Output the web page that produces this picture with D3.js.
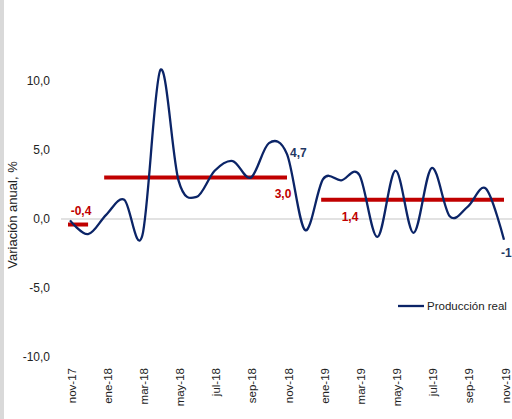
<!DOCTYPE html>
<html><head><meta charset="utf-8">
<script src="https://cdn.jsdelivr.net/npm/d3@7"></script>
<style>body{margin:0;background:#fff}svg{display:block;font-family:"Liberation Sans",Arial,sans-serif}</style>
</head><body><svg id="c" width="512" height="419"></svg>
<script>
const months = ["nov-17","dic-17","ene-18","feb-18","mar-18","abr-18","may-18","jun-18","jul-18","ago-18","sep-18","oct-18","nov-18","dic-18","ene-19","feb-19","mar-19","abr-19","may-19","jun-19","jul-19","ago-19","sep-19","oct-19","nov-19"];
const produccion = [-0.1,-1.1,0.3,1.4,-1.2,10.8,2.8,1.6,3.5,4.2,3.0,5.5,4.7,-0.8,2.9,2.8,3.2,-1.3,3.5,-1.0,3.7,0.2,0.9,2.2,-1.5];
const yTicks = [-10,-5,0,5,10];
const xTickLabels = ["nov-17","ene-18","mar-18","may-18","jul-18","sep-18","nov-18","ene-19","mar-19","may-19","jul-19","sep-19","nov-19"];
const avgStart = ["nov-17","ene-18","ene-19"];
const avgEnd = ["dic-17","nov-18","nov-19"];
const avgValues = [-0.4,3.0,1.4];
const avgLabels = ["-0,4","3,0","1,4"];

const svg = d3.select("#c");
svg.append("rect").attr("x",0).attr("y",0).attr("width",4).attr("height",419).attr("fill","#d9d9d9");

const x = d3.scalePoint().domain(months).range([70,504]);
const y = d3.scaleLinear().domain([-10,15]).range([357,12]);

svg.append("line").attr("x1",61).attr("x2",512).attr("y1",y(0)).attr("y2",y(0))
  .attr("stroke","#d9d9d9").attr("stroke-width",1.5);

const yAxis = d3.axisLeft(y).tickValues(yTicks).tickSize(0).tickPadding(0)
  .tickFormat(d=>d3.format(".1f")(d).replace(".",",").replace("−","-"));
const ga = svg.append("g").attr("transform","translate(50,0)").call(yAxis);
ga.select(".domain").remove();
ga.selectAll("text").attr("font-size",12).attr("fill","#222").attr("font-family","Liberation Sans, Arial, sans-serif");

const xAxis = d3.axisBottom(x).tickValues(xTickLabels).tickSize(0).tickPadding(0);
const gx = svg.append("g").attr("transform","translate(1,368)").call(xAxis);
gx.select(".domain").remove();
gx.selectAll("text").attr("font-size",11.5).attr("fill","#222")
  .attr("font-family","Liberation Sans, Arial, sans-serif")
  .attr("transform","rotate(-90)").attr("text-anchor","end").attr("dy","0.35em").attr("x",0).attr("y",0);

svg.append("text").attr("transform","translate(17,215) rotate(-90)").attr("text-anchor","middle")
  .attr("font-size",13).attr("fill","#222").text("Variación anual, %");

const avgG = svg.append("g");
avgValues.forEach((v,i)=>{
  const x1 = x(avgStart[i]) - 2, x2 = x(avgEnd[i]);
  avgG.append("line").attr("x1",x1).attr("x2",x2).attr("y1",y(v)).attr("y2",y(v))
    .attr("stroke","#c00000").attr("stroke-width",4);
});
const avgLabelPos = [[81,215],[283,198],[350,221]];
avgLabels.forEach((t,i)=>{
  svg.append("text").attr("x",avgLabelPos[i][0]).attr("y",avgLabelPos[i][1]).attr("text-anchor","middle")
    .attr("font-size",12).attr("font-weight","bold").attr("fill","#c00000").text(t);
});

const line = d3.line().x((d,i)=>x(months[i])).y(d=>y(d)).curve(d3.curveCardinal.tension(0));
svg.append("path").datum(produccion).attr("d",line).attr("fill","none")
  .attr("stroke","#0b2467").attr("stroke-width",2.3);

svg.append("text").attr("x",290).attr("y",157).attr("font-size",12).attr("font-weight","bold")
  .attr("fill","#1f3864").text("4,7");
svg.append("text").attr("x",501).attr("y",257).attr("font-size",12).attr("font-weight","bold")
  .attr("fill","#1f3864").text("-1,5");

svg.append("line").attr("x1",398).attr("x2",424).attr("y1",306).attr("y2",306)
  .attr("stroke","#0b2467").attr("stroke-width",2.3);
svg.append("text").attr("x",427).attr("y",310).attr("font-size",11.5).attr("fill","#222").text("Producción real");
</script></body></html>
